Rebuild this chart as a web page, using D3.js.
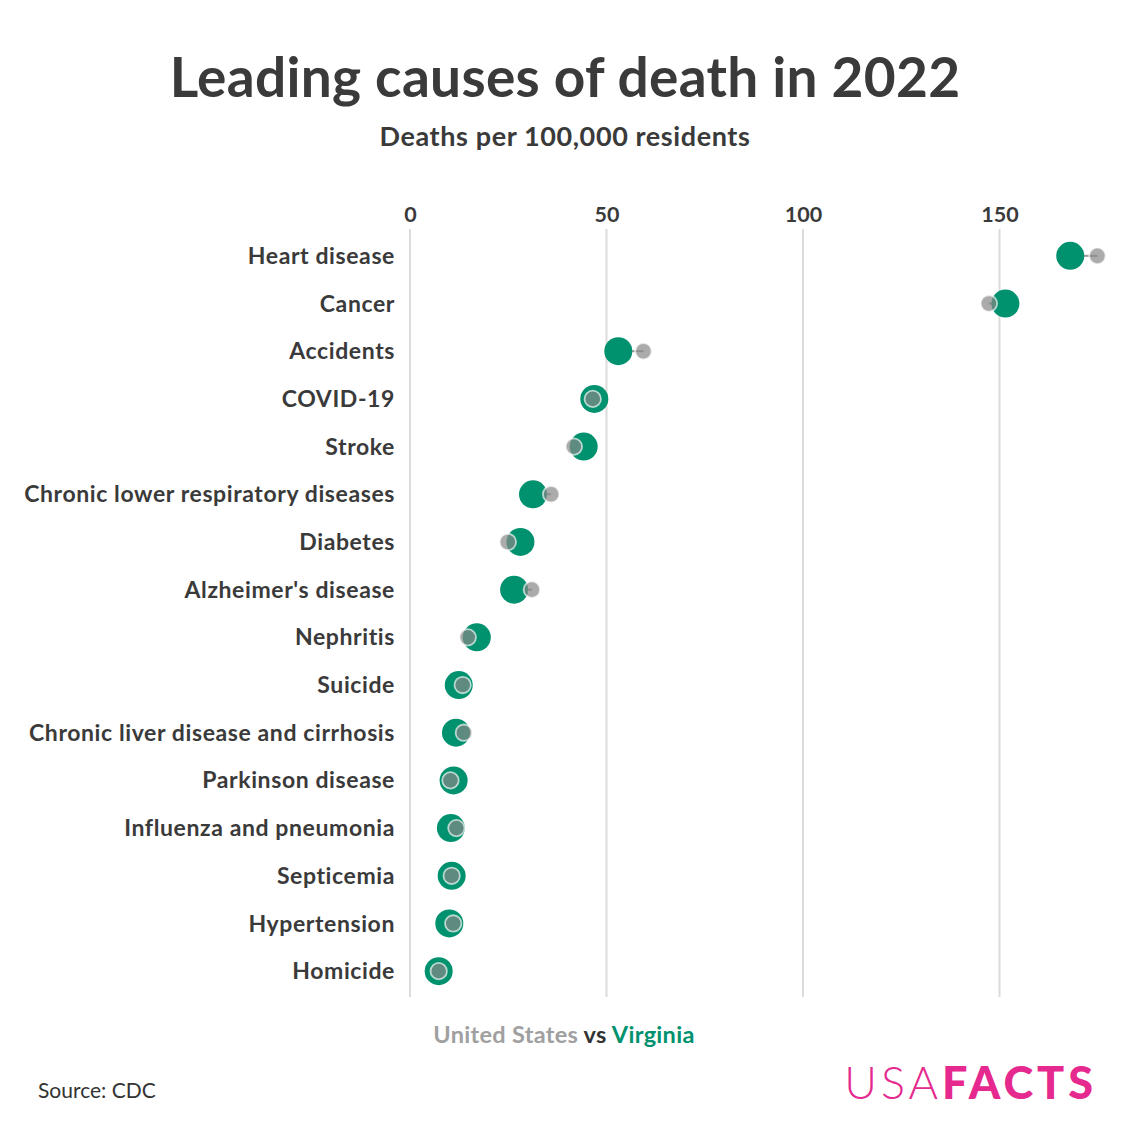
<!DOCTYPE html>
<html>
<head>
<meta charset="utf-8">
<script src="https://cdn.jsdelivr.net/npm/d3@7"></script>
<style>
  html, body { margin: 0; padding: 0; background: #fff; }
  svg { display: block; font-family: Lato, "Noto Sans", sans-serif; }
</style>
</head>
<body>
<svg id="chart" width="1128" height="1128"></svg>
<script>
const causes = ["Heart disease", "Cancer", "Accidents", "COVID-19", "Stroke",
  "Chronic lower respiratory diseases", "Diabetes", "Alzheimer's disease", "Nephritis",
  "Suicide", "Chronic liver disease and cirrhosis", "Parkinson disease",
  "Influenza and pneumonia", "Septicemia", "Hypertension", "Homicide"];
const virginia = [168.0, 151.5, 53.0, 46.9, 44.2, 31.3, 28.1, 26.5, 17.0, 12.4, 11.7, 11.1, 10.4, 10.6, 10.0, 7.3];
const unitedStates = [174.9, 147.3, 59.4, 46.5, 41.7, 35.9, 24.9, 31.0, 14.7, 13.4, 13.7, 10.3, 11.8, 10.6, 11.0, 7.3];
const xTicks = [0, 50, 100, 150];

const GREEN = "#00916e", GRAY = "#878787", TEXT = "#3a3a3a";
const svg = d3.select("#chart");

const x = d3.scaleLinear().domain([0, 150]).range([410, 999.5]);
const y = d3.scaleBand().domain(causes).range([232, 995]);

// title
svg.append("text").attr("x", 565).attr("y", 97).attr("text-anchor", "middle")
  .attr("font-size", 55).attr("font-weight", 700).attr("fill", TEXT)
  .attr("letter-spacing", 0.3)
  .text("Leading causes of death in 2022");
svg.append("text").attr("x", 565).attr("y", 146).attr("text-anchor", "middle")
  .attr("font-size", 27).attr("font-weight", 700).attr("fill", TEXT)
  .attr("letter-spacing", 0.6)
  .text("Deaths per 100,000 residents");

// grid
svg.append("g").selectAll("line").data(xTicks).join("line")
  .attr("x1", d => x(d)).attr("x2", d => x(d))
  .attr("y1", 229).attr("y2", 997)
  .attr("stroke", "#dcdcdc").attr("stroke-width", 2);

// top axis
const axis = svg.append("g").attr("transform", "translate(0,222)")
  .call(d3.axisTop(x).tickValues(xTicks).tickSize(0).tickPadding(0));
axis.select(".domain").remove();
axis.selectAll("text").attr("font-size", 21.5).attr("font-weight", 700)
  .attr("fill", TEXT).attr("font-family", "Lato, sans-serif");

// row labels
svg.append("g").selectAll("text").data(causes).join("text")
  .attr("x", 395).attr("y", d => y(d) + y.bandwidth() / 2)
  .attr("dy", "0.35em").attr("text-anchor", "end")
  .attr("font-size", 23).attr("font-weight", 700).attr("fill", TEXT)
  .attr("letter-spacing", 0.6)
  .text(d => d);

const rows = causes.map((c, i) => ({ c, va: virginia[i], us: unitedStates[i] }));

// connectors
svg.append("g").selectAll("line").data(rows).join("line")
  .attr("x1", d => x(d.va)).attr("x2", d => x(d.us))
  .attr("y1", d => y(d.c) + y.bandwidth() / 2).attr("y2", d => y(d.c) + y.bandwidth() / 2)
  .attr("stroke", "#999").attr("stroke-width", 2);

// Virginia dots
svg.append("g").selectAll("circle").data(rows).join("circle")
  .attr("cx", d => x(d.va)).attr("cy", d => y(d.c) + y.bandwidth() / 2)
  .attr("r", 14).attr("fill", GREEN);

// US dots
svg.append("g").selectAll("circle").data(rows).join("circle")
  .attr("cx", d => x(d.us)).attr("cy", d => y(d.c) + y.bandwidth() / 2)
  .attr("r", 8.2).attr("fill", GRAY).attr("fill-opacity", 0.7)
  .attr("stroke", "#fff").attr("stroke-opacity", 0.65).attr("stroke-width", 1.8);

// legend
const leg = svg.append("text").attr("x", 564).attr("y", 1043).attr("text-anchor", "middle")
  .attr("font-size", 23.5).attr("font-weight", 700).attr("letter-spacing", 0.3);
leg.append("tspan").attr("fill", "#a0a0a0").text("United States");
leg.append("tspan").attr("fill", "#333").text(" vs ");
leg.append("tspan").attr("fill", GREEN).text("Virginia");

// source
svg.append("text").attr("x", 38).attr("y", 1098)
  .attr("font-size", 21).attr("fill", "#333").text("Source: CDC");

// logo
const logo = svg.append("text").attr("x", 1097).attr("y", 1099).attr("text-anchor", "end")
  .attr("font-size", 45).attr("fill", "#e6298e").attr("letter-spacing", 4);
logo.append("tspan").attr("font-weight", 300).text("USA");
logo.append("tspan").attr("font-weight", 900).text("FACTS");
</script>
</body>
</html>
